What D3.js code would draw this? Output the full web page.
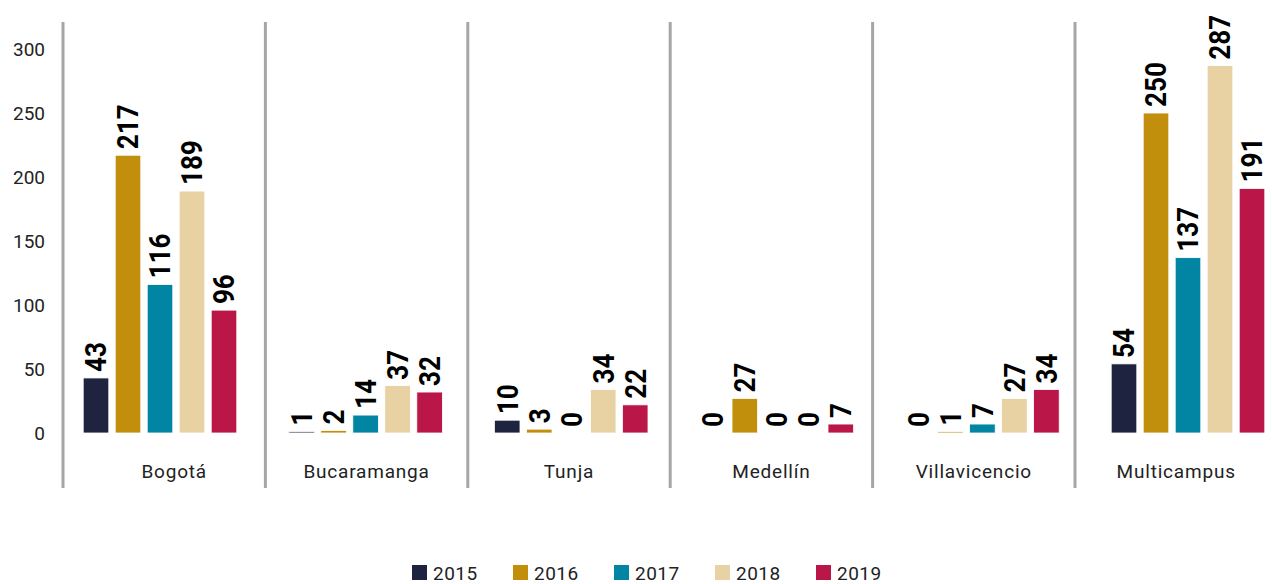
<!DOCTYPE html>
<html><head><meta charset="utf-8">
<script src="https://cdn.jsdelivr.net/npm/d3@7"></script>
<style>body{margin:0;background:#fff;}svg{display:block;font-family:Roboto,"DejaVu Sans",sans-serif;}</style>
</head><body>
<svg id="c" width="1272" height="584"></svg>
<script>
const categories = ["Bogotá","Bucaramanga","Tunja","Medellín","Villavicencio","Multicampus"];
const years = ["2015","2016","2017","2018","2019"];
const v2015 = [43, 1, 10, 0, 0, 54];
const v2016 = [217, 2, 3, 27, 1, 250];
const v2017 = [116, 14, 0, 0, 7, 137];
const v2018 = [189, 37, 34, 0, 27, 287];
const v2019 = [96, 32, 22, 7, 34, 191];
const yTicks = [0, 50, 100, 150, 200, 250, 300];
const colors = ["#1E2340", "#C18F0B", "#0284A3", "#E8D1A3", "#BA1648"];

const series = [v2015, v2016, v2017, v2018, v2019];
const svg = d3.select("#c");

const y = d3.scaleLinear().domain([0, 300]).range([433, 49]);
const xg = d3.scaleBand().domain(categories).range([57.2, 1290.8]);
const xb = d3.scaleBand().domain(years).range([22.8, 182.8]).paddingInner(0.2).paddingOuter(0.1);
const xs = d3.scaleBand().domain(categories).range([63, 1277.4]);
const color = d3.scaleOrdinal().domain(years).range(colors);

// separators
svg.append("g").selectAll("line").data(categories).join("line")
  .attr("x1", d => xs(d)).attr("x2", d => xs(d))
  .attr("y1", 22).attr("y2", 488)
  .attr("stroke", "#a6a6a6").attr("stroke-width", 3);

// y axis
const ya = svg.append("g").attr("transform", "translate(48,0)")
  .call(d3.axisLeft(y).tickValues(yTicks).tickSize(0).tickPadding(3));
ya.select(".domain").remove();
ya.selectAll("text").attr("font-size", 19).attr("fill", "#222").attr("font-family", "Roboto");

// bars
const flat = [];
categories.forEach((c, ci) => years.forEach((yr, yi) => flat.push({c, yr, v: series[yi][ci]})));
const g = svg.append("g");
g.selectAll("rect").data(flat.filter(d => d.v > 0)).join("rect")
  .attr("x", d => xg(d.c) + xb(d.yr))
  .attr("width", xb.bandwidth())
  .attr("y", d => y(d.v))
  .attr("height", d => y(0) - y(d.v))
  .attr("fill", d => color(d.yr))
  .attr("stroke", "#fff").attr("stroke-width", 0.8);

// value labels
g.selectAll("text.val").data(flat).join("text").attr("class", "val")
  .attr("transform", d => `translate(${xg(d.c) + xb(d.yr) + xb.bandwidth()/2},${y(d.v) - 6}) rotate(-90) scale(0.9,1)`)
  .attr("dy", "0.36em")
  .attr("text-anchor", "start")
  .attr("font-size", 29).attr("font-weight", 700).attr("fill", "#000")
  .text(d => d.v);

// category labels
svg.append("g").selectAll("text").data(categories).join("text")
  .attr("x", d => xs(d) + xs.bandwidth()/2 + (d === "Bogotá" ? 10 : 0))
  .attr("y", 478)
  .attr("text-anchor", "middle").attr("font-size", 19).attr("letter-spacing", "0.8px").attr("fill", "#222")
  .text(d => d);

// legend
const lg = svg.append("g").selectAll("g").data(years).join("g")
  .attr("transform", (d, i) => `translate(${412 + i * 101},565)`);
lg.append("rect").attr("width", 15).attr("height", 15).attr("fill", d => color(d));
lg.append("text").attr("x", 21).attr("y", 15).attr("font-size", 19).attr("letter-spacing", "0.5px").attr("fill", "#222").text(d => d);
</script>
</body></html>
